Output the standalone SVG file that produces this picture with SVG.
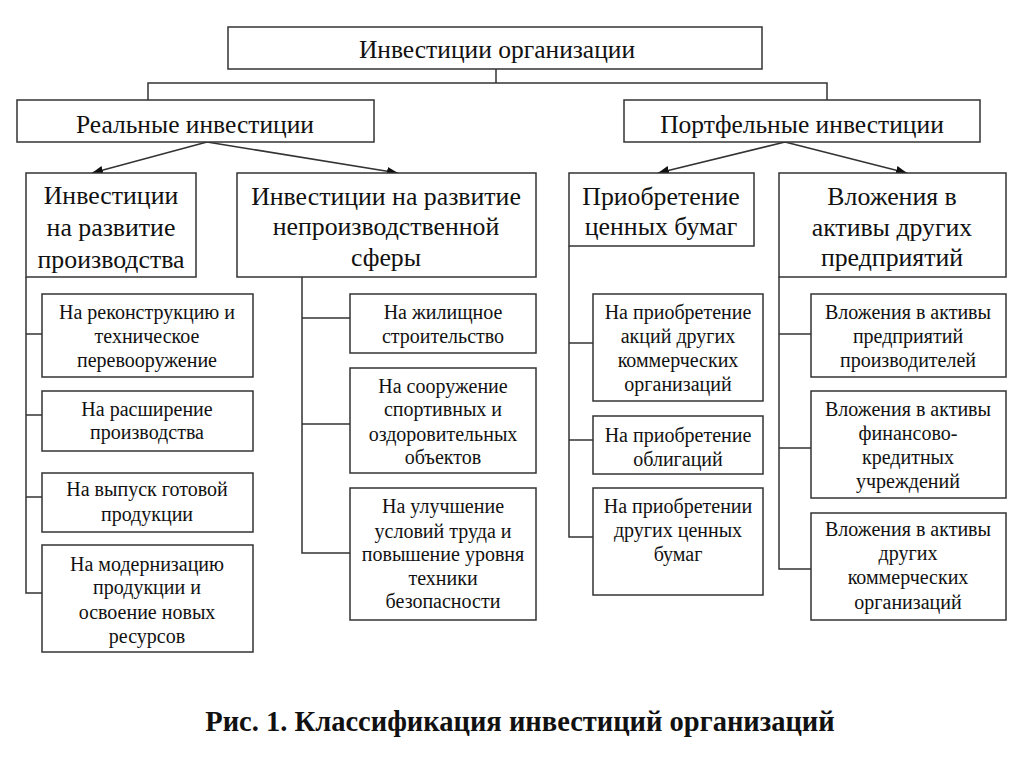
<svg xmlns="http://www.w3.org/2000/svg" width="1024" height="767" viewBox="0 0 1024 767">
<style>
rect{fill:#fff;stroke:#333;stroke-width:1.5}
.c line,.c polyline{stroke:#333;stroke-width:1.5;fill:none}
text{font-family:"Liberation Serif","Times New Roman",serif;fill:#111;text-anchor:middle}
.t1{font-size:25.5px}
.t2{font-size:25.8px}
.t3{font-size:20px}
.cap{font-size:28.5px;font-weight:bold}
</style>
<defs>
<marker id="ah" viewBox="0 0 10 10" refX="10" refY="5" markerWidth="11" markerHeight="11" markerUnits="userSpaceOnUse" orient="auto">
<path d="M0,1 L10,5 L0,9 z" fill="#111"/>
</marker>
</defs>
<rect x="0" y="0" width="1024" height="767" style="stroke:none"/>
<g class="c" id="connectors">
<polyline points="496,69 496,83"/>
<polyline points="148,100 148,83 827,83 827,100"/>
<line x1="207" y1="142" x2="92" y2="173" marker-end="url(#ah)"/>
<line x1="207" y1="142" x2="398" y2="173" marker-end="url(#ah)"/>
<line x1="785" y1="142" x2="658" y2="173" marker-end="url(#ah)"/>
<line x1="785" y1="142" x2="907" y2="173" marker-end="url(#ah)"/>
<polyline points="26,277 26,593 42,593"/>
<line x1="26" y1="334" x2="42" y2="334"/>
<line x1="26" y1="415" x2="42" y2="415"/>
<line x1="26" y1="497" x2="42" y2="497"/>
<polyline points="302,277 302,553 350,553"/>
<line x1="302" y1="318" x2="350" y2="318"/>
<line x1="302" y1="424" x2="350" y2="424"/>
<polyline points="569,246 569,537 593,537"/>
<line x1="569" y1="343" x2="593" y2="343"/>
<line x1="569" y1="440" x2="593" y2="440"/>
<polyline points="779,277 779,569 811,569"/>
<line x1="779" y1="334" x2="811" y2="334"/>
<line x1="779" y1="448" x2="811" y2="448"/>
</g>
<g id="root"><rect x="228" y="27" width="534" height="42"/><text class="t1" x="497" y="58">Инвестиции организации</text></g>
<g id="real"><rect x="17" y="100" width="357" height="42"/><text class="t1" x="195" y="133">Реальные инвестиции</text></g>
<g id="portfolio"><rect x="624" y="100" width="356" height="42"/><text class="t1" x="802" y="133">Портфельные инвестиции</text></g>
<g id="prod"><rect x="26" y="173" width="170" height="104"/><text class="t2"><tspan x="111" y="204">Инвестиции</tspan><tspan x="111" y="236">на развитие</tspan><tspan x="111" y="268">производства</tspan></text></g>
<g id="nonprod"><rect x="237" y="173" width="299" height="104"/><text class="t2"><tspan x="386" y="205">Инвестиции на развитие</tspan><tspan x="386" y="235">непроизводственной</tspan><tspan x="386" y="266">сферы</tspan></text></g>
<g id="securities"><rect x="569" y="173" width="185" height="73"/><text class="t2"><tspan x="661" y="205">Приобретение</tspan><tspan x="661" y="235">ценных бумаг</tspan></text></g>
<g id="assets"><rect x="779" y="173" width="227" height="104"/><text class="t2"><tspan x="892" y="205">Вложения в</tspan><tspan x="892" y="236">активы других</tspan><tspan x="892" y="266">предприятий</tspan></text></g>
<g id="p1"><rect x="42" y="294" width="211" height="83"/><text class="t3"><tspan x="147" y="319">На реконструкцию и</tspan><tspan x="147" y="343">техническое</tspan><tspan x="147" y="367">перевооружение</tspan></text></g>
<g id="p2"><rect x="42" y="391" width="211" height="60"/><text class="t3"><tspan x="147" y="416">На расширение</tspan><tspan x="147" y="439">производства</tspan></text></g>
<g id="p3"><rect x="42" y="473" width="211" height="59"/><text class="t3"><tspan x="147" y="496">На выпуск готовой</tspan><tspan x="147" y="521">продукции</tspan></text></g>
<g id="p4"><rect x="42" y="545" width="211" height="107"/><text class="t3"><tspan x="147" y="571">На модернизацию</tspan><tspan x="147" y="594">продукции и</tspan><tspan x="147" y="619">освоение новых</tspan><tspan x="147" y="643">ресурсов</tspan></text></g>
<g id="n1"><rect x="350" y="294" width="186" height="59"/><text class="t3"><tspan x="443" y="319">На жилищное</tspan><tspan x="443" y="343">строительство</tspan></text></g>
<g id="n2"><rect x="350" y="368" width="186" height="105"/><text class="t3"><tspan x="443" y="393">На сооружение</tspan><tspan x="443" y="416">спортивных и</tspan><tspan x="443" y="441">оздоровительных</tspan><tspan x="443" y="464">объектов</tspan></text></g>
<g id="n3"><rect x="350" y="488" width="186" height="132"/><text class="t3"><tspan x="443" y="513">На улучшение</tspan><tspan x="443" y="538">условий труда и</tspan><tspan x="443" y="561">повышение уровня</tspan><tspan x="443" y="585">техники</tspan><tspan x="443" y="608">безопасности</tspan></text></g>
<g id="s1"><rect x="593" y="294" width="170" height="107"/><text class="t3"><tspan x="678" y="319">На приобретение</tspan><tspan x="678" y="343">акций других</tspan><tspan x="678" y="367">коммерческих</tspan><tspan x="678" y="391">организаций</tspan></text></g>
<g id="s2"><rect x="593" y="416" width="170" height="58"/><text class="t3"><tspan x="678" y="442">На приобретение</tspan><tspan x="678" y="466">облигаций</tspan></text></g>
<g id="s3"><rect x="593" y="488" width="170" height="107"/><text class="t3"><tspan x="678" y="513">На приобретении</tspan><tspan x="678" y="537">других ценных</tspan><tspan x="678" y="561">бумаг</tspan></text></g>
<g id="a1"><rect x="811" y="294" width="195" height="83"/><text class="t3"><tspan x="908" y="319">Вложения в активы</tspan><tspan x="908" y="343">предприятий</tspan><tspan x="908" y="367">производителей</tspan></text></g>
<g id="a2"><rect x="811" y="391" width="195" height="107"/><text class="t3"><tspan x="908" y="416">Вложения в активы</tspan><tspan x="908" y="440">финансово-</tspan><tspan x="908" y="464">кредитных</tspan><tspan x="908" y="488">учреждений</tspan></text></g>
<g id="a3"><rect x="811" y="513" width="195" height="107"/><text class="t3"><tspan x="908" y="536">Вложения в активы</tspan><tspan x="908" y="560">других</tspan><tspan x="908" y="584">коммерческих</tspan><tspan x="908" y="609">организаций</tspan></text></g>
<text class="cap" x="520" y="731">Рис. 1. Классификация инвестиций организаций</text>
</svg>
